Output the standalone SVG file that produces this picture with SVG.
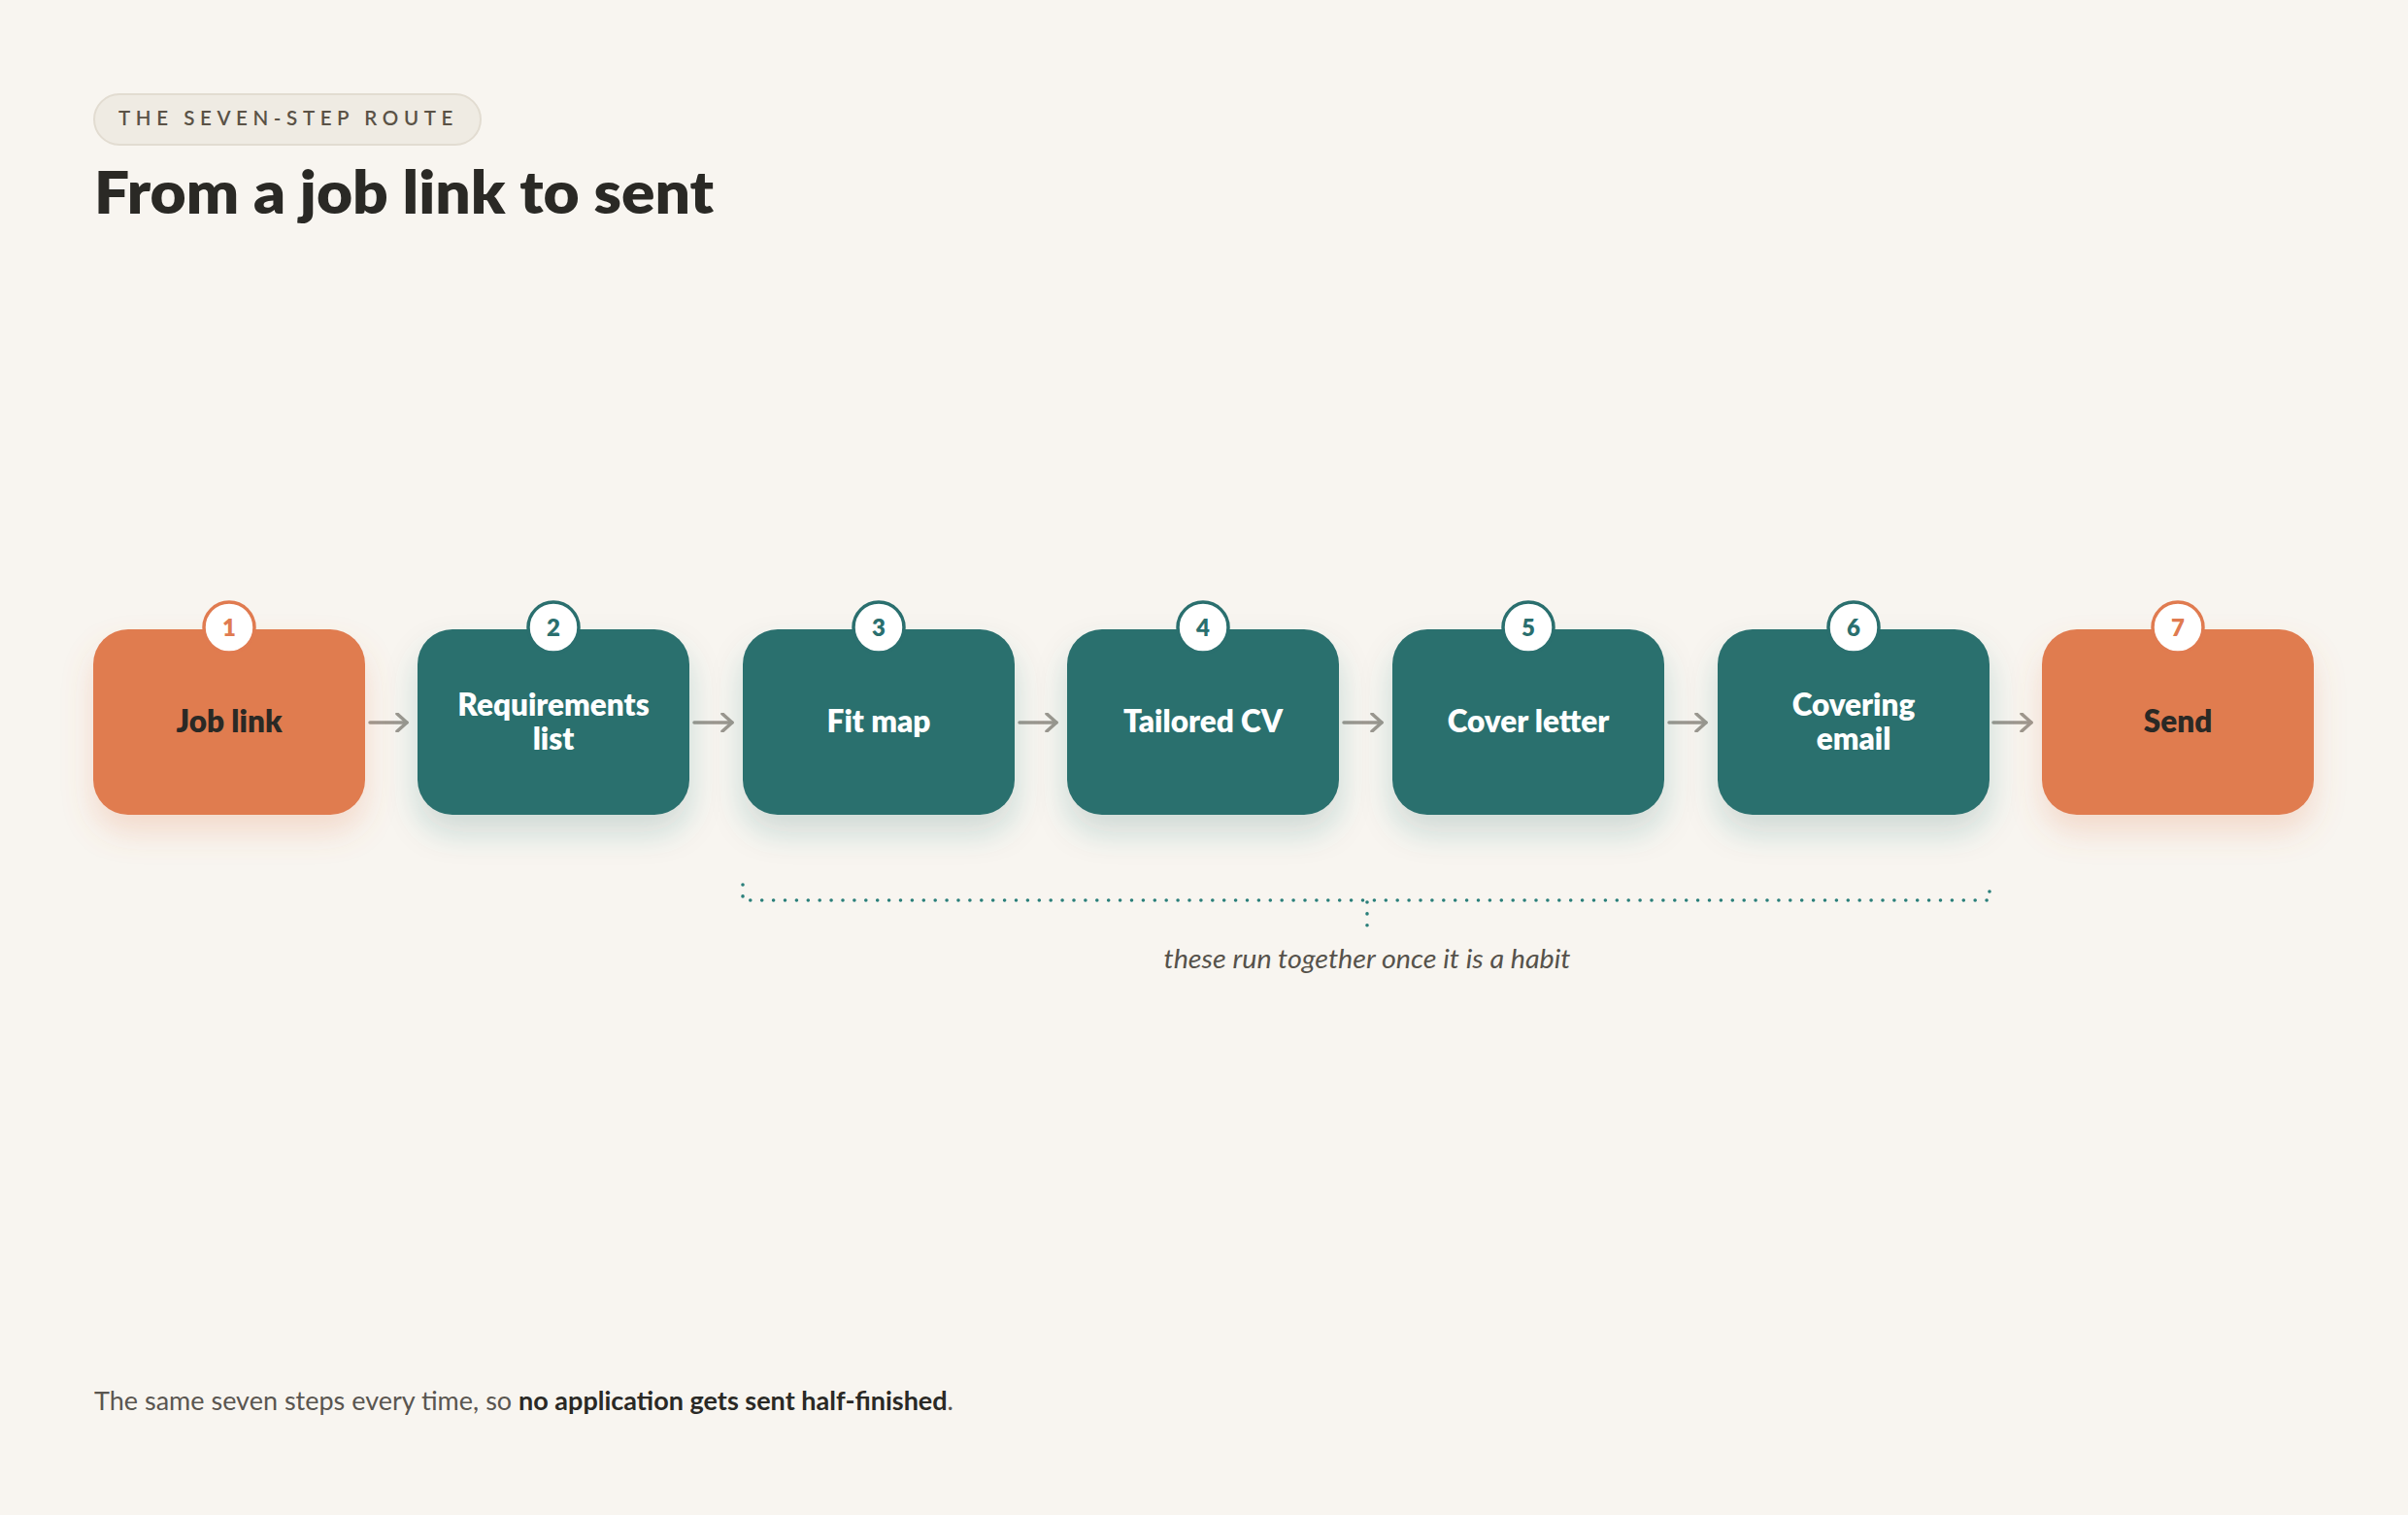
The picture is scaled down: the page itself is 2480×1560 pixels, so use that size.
<svg xmlns="http://www.w3.org/2000/svg" width="2480" height="1560" viewBox="0 0 2480 1560">
  <style>
    .bg { fill: #F8F5F0; }
    .pill { fill: #EFEBE3; stroke: #E2DCD1; stroke-width: 2; }
    .eyebrow { font-family: Lato, "Liberation Sans", sans-serif; font-size: 20.5px; font-weight: 600; letter-spacing: 5.6px; fill: #5A5246; }
    .title { font-family: Lato, "Liberation Sans", sans-serif; font-size: 61px; font-weight: 800; fill: #2A2925; }
    .box-o { fill: #E07B50; filter: url(#shO); }
    .box-t { fill: #2A6F6E; filter: url(#shT); }
    .badge-o { fill: #FFFFFF; stroke: #E07B50; stroke-width: 3.5; }
    .badge-t { fill: #FFFFFF; stroke: #2A6F6E; stroke-width: 3.5; }
    .num { font-family: Lato, "Liberation Sans", sans-serif; font-size: 24px; font-weight: 800; text-anchor: middle; }
    .num-o { fill: #E07B50; }
    .num-t { fill: #2A6F6E; }
    .lbl { font-family: Lato, "Liberation Sans", sans-serif; font-size: 31.5px; font-weight: 800; text-anchor: middle; }
    .lbl-d { fill: #2A2925; }
    .lbl-w { fill: #FFFFFF; }
    .arrow { fill: none; stroke: #9C978F; stroke-width: 3.5; stroke-linecap: round; stroke-linejoin: round; }
    .dots { fill: none; stroke: #2A7F7A; stroke-width: 3.6; stroke-linecap: round; stroke-dasharray: 0 11.9; }
    .note { font-family: Lato, "Liberation Sans", sans-serif; font-size: 27px; font-style: italic; fill: #56524B; text-anchor: middle; }
    .foot { font-family: Lato, "Liberation Sans", sans-serif; font-size: 26.5px; fill: #5A5650; }
    .foot-b { font-weight: 700; fill: #2A2925; }
  </style>
  <defs>
    <filter id="shO" x="-30%" y="-30%" width="160%" height="180%">
      <feDropShadow dx="0" dy="18" stdDeviation="16" flood-color="#E07B50" flood-opacity="0.22"/>
    </filter>
    <filter id="shT" x="-30%" y="-30%" width="160%" height="180%">
      <feDropShadow dx="0" dy="18" stdDeviation="16" flood-color="#2A6F6E" flood-opacity="0.2"/>
    </filter>
    <marker id="head" viewBox="0 0 20 20" refX="16" refY="10" markerWidth="20" markerHeight="20" markerUnits="userSpaceOnUse" orient="auto">
      <path d="M6 1 L16 10 L6 19" fill="none" stroke="#9C978F" stroke-width="3.5" stroke-linecap="round" stroke-linejoin="round"/>
    </marker>
  </defs>

  <rect class="bg" x="0" y="0" width="2480" height="1560"/>

  <g id="header">
    <rect class="pill" x="97" y="97" width="398" height="52" rx="26"/>
    <text class="eyebrow" x="122" y="129">THE SEVEN-STEP ROUTE</text>
    <text class="title" x="97" y="220" textLength="638" lengthAdjust="spacingAndGlyphs">From a job link to sent</text>
  </g>

  <g id="connectors">
    <line class="arrow" x1="381" y1="744" x2="419" y2="744" marker-end="url(#head)"/>
    <line class="arrow" x1="715" y1="744" x2="754" y2="744" marker-end="url(#head)"/>
    <line class="arrow" x1="1050" y1="744" x2="1088" y2="744" marker-end="url(#head)"/>
    <line class="arrow" x1="1384" y1="744" x2="1423" y2="744" marker-end="url(#head)"/>
    <line class="arrow" x1="1719" y1="744" x2="1757" y2="744" marker-end="url(#head)"/>
    <line class="arrow" x1="2053" y1="744" x2="2092" y2="744" marker-end="url(#head)"/>
  </g>

  <g id="node1">
    <rect class="box-o" x="96" y="648" width="280" height="191" rx="36"/>
    <circle class="badge-o" cx="236" cy="646" r="26"/>
    <text class="num num-o" x="236" y="655">1</text>
    <text class="lbl lbl-d" x="236" y="754">Job link</text>
  </g>
  <g id="node2">
    <rect class="box-t" x="430" y="648" width="280" height="191" rx="36"/>
    <circle class="badge-t" cx="570" cy="646" r="26"/>
    <text class="num num-t" x="570" y="655">2</text>
    <text class="lbl lbl-w" x="570" y="737">Requirements</text>
    <text class="lbl lbl-w" x="570" y="772">list</text>
  </g>
  <g id="node3">
    <rect class="box-t" x="765" y="648" width="280" height="191" rx="36"/>
    <circle class="badge-t" cx="905" cy="646" r="26"/>
    <text class="num num-t" x="905" y="655">3</text>
    <text class="lbl lbl-w" x="905" y="754">Fit map</text>
  </g>
  <g id="node4">
    <rect class="box-t" x="1099" y="648" width="280" height="191" rx="36"/>
    <circle class="badge-t" cx="1239" cy="646" r="26"/>
    <text class="num num-t" x="1239" y="655">4</text>
    <text class="lbl lbl-w" x="1239" y="754">Tailored CV</text>
  </g>
  <g id="node5">
    <rect class="box-t" x="1434" y="648" width="280" height="191" rx="36"/>
    <circle class="badge-t" cx="1574" cy="646" r="26"/>
    <text class="num num-t" x="1574" y="655">5</text>
    <text class="lbl lbl-w" x="1574" y="754">Cover letter</text>
  </g>
  <g id="node6">
    <rect class="box-t" x="1769" y="648" width="280" height="191" rx="36"/>
    <circle class="badge-t" cx="1909" cy="646" r="26"/>
    <text class="num num-t" x="1909" y="655">6</text>
    <text class="lbl lbl-w" x="1909" y="737">Covering</text>
    <text class="lbl lbl-w" x="1909" y="772">email</text>
  </g>
  <g id="node7">
    <rect class="box-o" x="2103" y="648" width="280" height="191" rx="36"/>
    <circle class="badge-o" cx="2243" cy="646" r="26"/>
    <text class="num num-o" x="2243" y="655">7</text>
    <text class="lbl lbl-d" x="2243" y="754">Send</text>
  </g>

  <g id="bracket">
    <path class="dots" d="M765 911 V927 H2049 V915"/>
    <path class="dots" d="M1408 929 V953"/>
    <text class="note" x="1408" y="997" textLength="419" lengthAdjust="spacingAndGlyphs">these run together once it is a habit</text>
  </g>

  <g id="footer">
    <text class="foot" x="97" y="1452" textLength="885" lengthAdjust="spacingAndGlyphs">The same seven steps every time, so <tspan class="foot-b">no application gets sent half-finished</tspan>.</text>
  </g>
</svg>
